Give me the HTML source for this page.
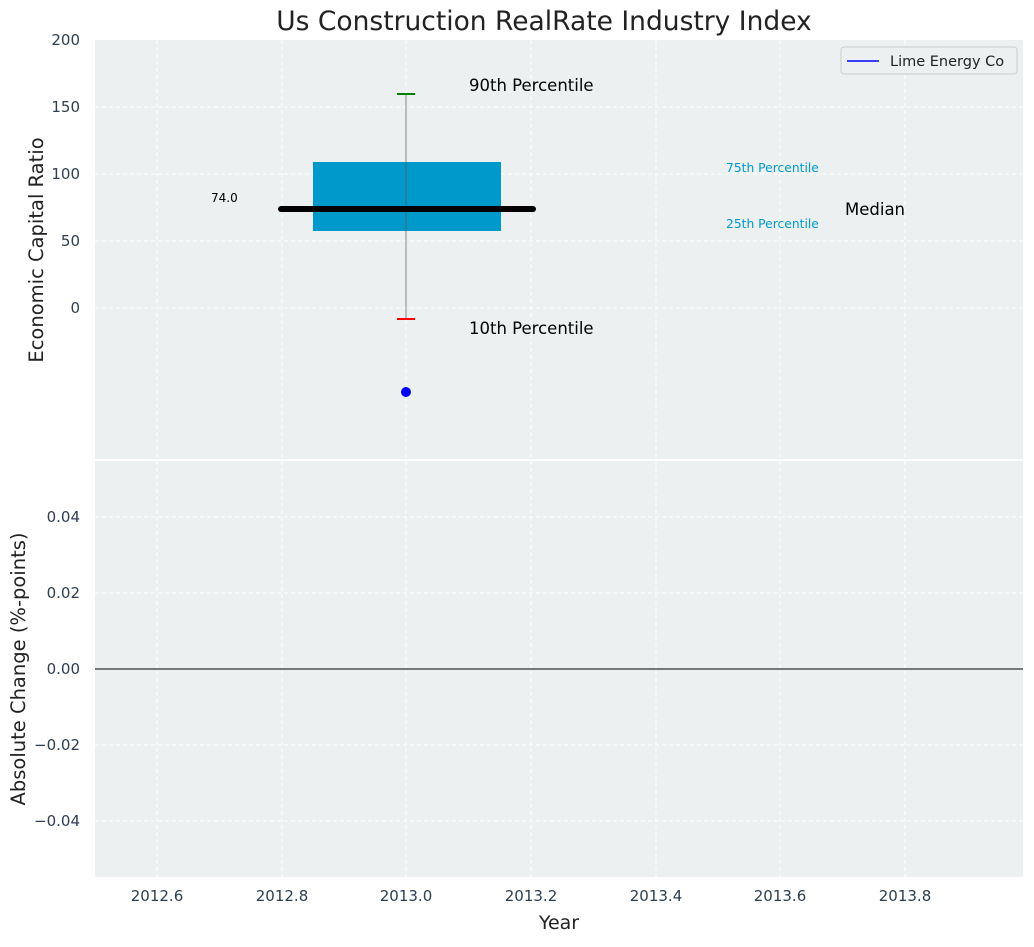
<!DOCTYPE html>
<html><head><style>body{margin:0;background:#fff}</style></head><body>
<svg width="1034" height="942" xmlns="http://www.w3.org/2000/svg" font-family="'DejaVu Sans', 'Liberation Sans', sans-serif">
<rect width="1034" height="942" fill="#fff"/>
<text x="544" y="30" font-size="26.5" text-anchor="middle" fill="#222">Us Construction RealRate Industry Index</text>
<rect x="95" y="40" width="928" height="419" fill="#ecf0f1"/>
<rect x="95" y="461" width="928" height="416" fill="#ecf0f1"/>
<g stroke="#fff" stroke-dasharray="4,3" stroke-width="1">
<line x1="157" y1="40" x2="157" y2="459"/><line x1="282" y1="40" x2="282" y2="459"/><line x1="406" y1="40" x2="406" y2="459"/><line x1="531" y1="40" x2="531" y2="459"/><line x1="656" y1="40" x2="656" y2="459"/><line x1="780" y1="40" x2="780" y2="459"/><line x1="905" y1="40" x2="905" y2="459"/>
<line x1="95" y1="107" x2="1023" y2="107"/><line x1="95" y1="174" x2="1023" y2="174"/><line x1="95" y1="241" x2="1023" y2="241"/><line x1="95" y1="308" x2="1023" y2="308"/>
<line x1="157" y1="461" x2="157" y2="877"/><line x1="282" y1="461" x2="282" y2="877"/><line x1="406" y1="461" x2="406" y2="877"/><line x1="531" y1="461" x2="531" y2="877"/><line x1="656" y1="461" x2="656" y2="877"/><line x1="780" y1="461" x2="780" y2="877"/><line x1="905" y1="461" x2="905" y2="877"/>
<line x1="95" y1="517" x2="1023" y2="517"/><line x1="95" y1="593" x2="1023" y2="593"/><line x1="95" y1="745" x2="1023" y2="745"/><line x1="95" y1="821" x2="1023" y2="821"/>
</g>
<line x1="95" y1="669" x2="1023" y2="669" stroke="#000" stroke-width="1"/>
<rect x="313" y="162" width="188" height="69" fill="#0099cc"/>
<line x1="406" y1="94" x2="406" y2="319" stroke="#555" stroke-width="1" opacity="0.7"/>
<line x1="397" y1="94" x2="415" y2="94" stroke="green" stroke-width="2"/>
<line x1="397" y1="319" x2="415" y2="319" stroke="red" stroke-width="2"/>
<line x1="281" y1="209" x2="533" y2="209" stroke="#000" stroke-width="6" stroke-linecap="round"/>
<circle cx="406" cy="392" r="5" fill="blue"/>
<g font-size="16.5" fill="#000">
<text x="469" y="91">90th Percentile</text>
<text x="469" y="334">10th Percentile</text>
<text x="845" y="215">Median</text>
</g>
<g font-size="12.3" fill="#0099cc"><text x="726" y="172">75th Percentile</text><text x="726" y="228">25th Percentile</text></g>
<text x="211" y="202" font-size="12" fill="#000">74.0</text>
<rect x="841" y="47" width="176" height="27" rx="3" fill="#ecf0f1" stroke="#ccc"/>
<line x1="847" y1="61" x2="879" y2="61" stroke="blue" stroke-width="1.5"/>
<text x="890" y="66" font-size="14.5" fill="#222">Lime Energy Co</text>
<g font-size="15" fill="#2c3e50" text-anchor="end">
<text x="80" y="45">200</text><text x="80" y="112">150</text><text x="80" y="179">100</text><text x="80" y="246">50</text><text x="80" y="313">0</text>
<text x="80" y="522">0.04</text><text x="80" y="598">0.02</text><text x="80" y="674">0.00</text><text x="80" y="750">−0.02</text><text x="80" y="826">−0.04</text>
</g>
<g font-size="15" fill="#2c3e50" text-anchor="middle">
<text x="157" y="901">2012.6</text><text x="282" y="901">2012.8</text><text x="406" y="901">2013.0</text><text x="531" y="901">2013.2</text><text x="656" y="901">2013.4</text><text x="780" y="901">2013.6</text><text x="905" y="901">2013.8</text>
</g>
<text x="559" y="929" font-size="19" text-anchor="middle" fill="#222">Year</text>
<text transform="translate(43,250) rotate(-90)" font-size="19.5" text-anchor="middle" fill="#222">Economic Capital Ratio</text>
<text transform="translate(25,669) rotate(-90)" font-size="19.5" text-anchor="middle" fill="#222">Absolute Change (%-points)</text>
</svg>
</body></html>
